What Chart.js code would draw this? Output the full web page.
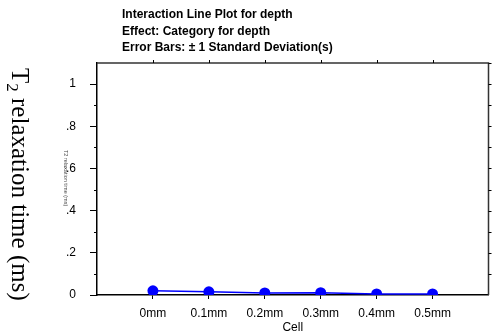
<!DOCTYPE html>
<html>
<head>
<meta charset="utf-8">
<script src="https://cdn.jsdelivr.net/npm/chart.js@4.4.0/dist/chart.umd.min.js"></script>
<style>
  html, body { margin: 0; padding: 0; background: #fff; }
  canvas { display: block; }
</style>
</head>
<body>
<canvas id="chart" width="494" height="331"></canvas>
<script>
// Chart data
const cells = ["0mm", "0.1mm", "0.2mm", "0.3mm", "0.4mm", "0.5mm"];
const depthMeans = [0.02, 0.015, 0.01, 0.011, 0.005, 0.005];
const yTicks = [0, 0.2, 0.4, 0.6, 0.8, 1];
const yTickLabels = ["0", ".2", ".4", ".6", ".8", "1"];
const yMinorTicks = [0.1, 0.3, 0.5, 0.7, 0.9];
const titleLines = [
    "Interaction Line Plot for depth",
    "Effect: Category for depth",
    "Error Bars: \u00b1 1 Standard Deviation(s)"
];
const yTitle = ["T", "2", " relaxation time (ms)"];
const xTitle = "Cell";

const sans = "'Liberation Sans', Arial, sans-serif";
const serif = "'Liberation Serif', 'Times New Roman', serif";

// Frame: top/right borders, extra ticks, texts
const framePlugin = {
    id: "frame",
    beforeDatasetsDraw(chart) {
        const c = chart.ctx;
        const a = chart.chartArea;
        const xs = chart.scales.x;
        const ys = chart.scales.y;
        c.save();
        c.strokeStyle = "#333";
        c.lineWidth = 1.5;
        c.beginPath();
        c.moveTo(a.left, a.top);
        c.lineTo(a.right, a.top);
        c.lineTo(a.right, a.bottom);
        c.stroke();

        c.lineWidth = 1;
        c.beginPath();
        // top ticks at categories
        cells.forEach((cl, i) => {
            const x = Math.round(xs.getPixelForValue(i)) + 0.5;
            c.moveTo(x, a.top);
            c.lineTo(x, a.top - 3);
        });
        // right ticks every 0.1
        for (let k = 1; k <= 11; k++) {
            const y = Math.round(ys.getPixelForValue(k / 10)) + 0.5;
            c.moveTo(a.right, y);
            c.lineTo(a.right + 3, y);
        }
        // left minor ticks
        yMinorTicks.forEach(v => {
            const y = Math.round(ys.getPixelForValue(v)) + 0.5;
            c.moveTo(a.left, y);
            c.lineTo(a.left - 3, y);
        });
        c.strokeStyle = "#000";
        c.stroke();
        c.restore();
    },
    afterDraw(chart) {
        const c = chart.ctx;
        c.save();
        // header
        c.fillStyle = "#000";
        c.font = "bold 12px " + sans;
        c.textBaseline = "alphabetic";
        c.textAlign = "left";
        titleLines.forEach((t, i) => {
            c.fillText(t, 122, 18 + i * 16.5);
        });

        // y title, rotated clockwise
        c.translate(12, 68);
        c.rotate(Math.PI / 2);
        c.font = "25px " + serif;
        c.fillText(yTitle[0], 0, 0);
        let w = c.measureText(yTitle[0]).width;
        c.font = "17px " + serif;
        c.fillText(yTitle[1], w, 5);
        w += c.measureText(yTitle[1]).width;
        c.font = "25px " + serif;
        c.fillText(yTitle[2], w, 0);
        c.restore();

        // faint ghost label
        c.save();
        c.translate(64, 150);
        c.rotate(Math.PI / 2);
        c.fillStyle = "#444";
        c.font = "5.5px " + sans;
        c.fillText("T2 relaxation time (ms)", 0, 0);
        c.restore();
    }
};

const ctx = document.getElementById("chart").getContext("2d");
const myChart = new Chart(ctx, {
    type: "line",
    data: {
        datasets: [{
            data: depthMeans.map((v, i) => ({ x: i, y: v })),
            borderColor: "#0000ff",
            backgroundColor: "#0000ff",
            borderWidth: 1.5,
            pointRadius: 5.5,
            pointBorderWidth: 0,
            tension: 0
        }]
    },
    options: {
        responsive: false,
        animation: false,
        layout: { padding: { top: 63, right: 3, left: 0, bottom: 0 } },
        plugins: {
            legend: { display: false },
            tooltip: { enabled: false },
            title: { display: false }
        },
        scales: {
            x: {
                type: "linear",
                min: -1,
                max: 6,
                afterBuildTicks: s => { s.ticks = cells.map((c, i) => ({ value: i })); },
                afterFit: s => { s.height = 36; },
                ticks: {
                    autoSkip: false,
                    maxRotation: 0,
                    color: "#000",
                    font: { family: sans, size: 12 },
                    padding: 7,
                    callback: v => cells[v]
                },
                grid: { drawOnChartArea: false, tickLength: 4, color: "#000" },
                border: { color: "#000", width: 1.5 },
                title: {
                    display: true,
                    text: xTitle,
                    color: "#000",
                    font: { family: sans, size: 12 },
                    padding: { top: 0, bottom: -4 }
                }
            },
            y: {
                min: 0,
                max: 1.1,
                afterBuildTicks: s => { s.ticks = yTicks.map(v => ({ value: v })); },
                afterFit: s => { s.width = 97; },
                ticks: {
                    color: "#000",
                    font: { family: sans, size: 12 },
                    padding: 14,
                    callback: (v, i) => yTickLabels[i]
                },
                grid: { drawOnChartArea: false, tickLength: 7, color: "#000" },
                border: { color: "#000", width: 1.5 }
            }
        }
    },
    plugins: [framePlugin]
});
</script>
</body>
</html>
